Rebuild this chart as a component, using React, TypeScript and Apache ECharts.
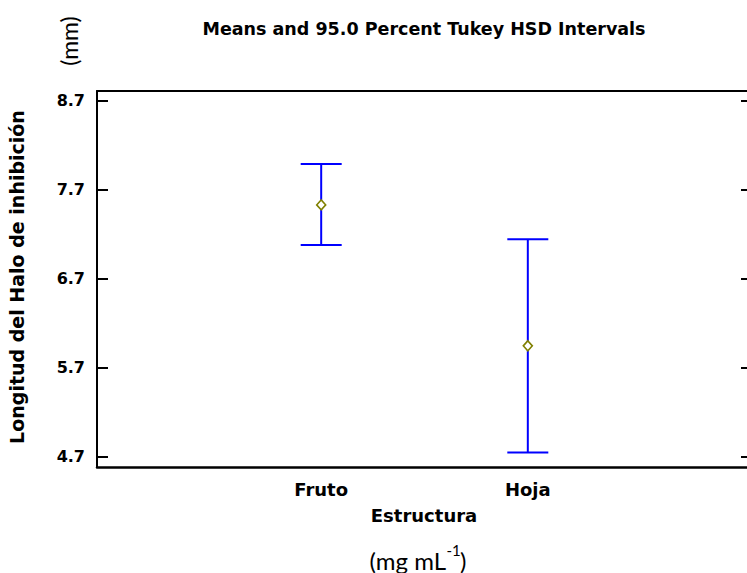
import React, { useEffect, useRef } from "react";
import * as echarts from "echarts";

const categories = ["Fruto", "Hoja"];
const means = [7.53, 5.945];
const lowerLimits = [7.08, 4.745];
const upperLimits = [7.99, 7.145];
const yTicks = [4.7, 5.7, 6.7, 7.7, 8.7];

const titleText = "Means and 95.0 Percent Tukey HSD Intervals";
const yName = "Longitud del Halo de inhibición";
const xName = "Estructura";

const Y_MIN = 4.581;
const Y_MAX = 8.812;
const X_MIN = -0.085;
const X_MAX = 3.085;

const BOLD = "'DejaVu Sans', sans-serif";
const PLAIN = "Lato, 'Open Sans', sans-serif";

export default function App() {
  const ref = useRef<HTMLDivElement>(null);
  useEffect(() => {
    if (!ref.current) return;
    const chart = echarts.init(ref.current, null, { renderer: "svg" });
    const barData = categories.map((_, i) => [i + 1, lowerLimits[i], upperLimits[i]]);
    const meanData = categories.map((_, i) => [i + 1, means[i]]);
    chart.setOption({
      animation: false,
      backgroundColor: "#ffffff",
      grid: { left: 97, right: -5, top: 91, bottom: 106, containLabel: false, outerBoundsMode: "none" },
      xAxis: [
        {
          type: "value",
          position: "bottom",
          min: X_MIN,
          max: X_MAX,
          axisLine: { show: true, lineStyle: { color: "#000", width: 2.5 } },
          axisTick: { show: false },
          splitLine: { show: false },
          axisLabel: {
            customValues: [1, 2],
            formatter: (v: number) => categories[Math.round(v) - 1] ?? "",
            fontFamily: BOLD,
            fontWeight: "bold",
            fontSize: 18,
            color: "#000",
            margin: 13,
          },
        },
        {
          type: "value",
          position: "top",
          min: X_MIN,
          max: X_MAX,
          axisLine: { show: true, onZero: false, lineStyle: { color: "#000", width: 2 } },
          axisTick: { show: false },
          axisLabel: { show: false },
          splitLine: { show: false },
        },
      ],
      yAxis: [
        {
          type: "value",
          position: "left",
          min: Y_MIN,
          max: Y_MAX,
          axisLine: { show: true, onZero: false, lineStyle: { color: "#000", width: 2 } },
          axisTick: { show: true, inside: true, length: 11, customValues: yTicks, lineStyle: { color: "#000", width: 2 } },
          splitLine: { show: false },
          axisLabel: {
            customValues: yTicks,
            formatter: (v: number) => v.toFixed(1),
            fontFamily: BOLD,
            fontWeight: "bold",
            fontSize: 16,
            color: "#000",
            margin: 12,
          },
        },
        {
          type: "value",
          position: "right",
          min: Y_MIN,
          max: Y_MAX,
          axisLine: { show: true, onZero: false, lineStyle: { color: "#000", width: 2 } },
          axisTick: { show: true, inside: true, length: 11, customValues: yTicks, lineStyle: { color: "#000", width: 2 } },
          splitLine: { show: false },
          axisLabel: { show: false },
        },
      ],
      series: [
        {
          type: "custom",
          xAxisIndex: 0,
          yAxisIndex: 0,
          data: barData,
          clip: false,
          renderItem: (params: any, api: any) => {
            const x = api.value(0);
            const pLo = api.coord([x, api.value(1)]);
            const pHi = api.coord([x, api.value(2)]);
            const half = 20.5;
            const style = { stroke: "#0000ff", lineWidth: 2 };
            return {
              type: "group",
              children: [
                { type: "line", shape: { x1: pHi[0], y1: pHi[1], x2: pLo[0], y2: pLo[1] }, style },
                { type: "line", shape: { x1: pHi[0] - half, y1: pHi[1], x2: pHi[0] + half, y2: pHi[1] }, style },
                { type: "line", shape: { x1: pLo[0] - half, y1: pLo[1], x2: pLo[0] + half, y2: pLo[1] }, style },
              ],
            };
          },
          z: 2,
        },
        {
          type: "scatter",
          xAxisIndex: 0,
          yAxisIndex: 0,
          data: meanData,
          symbol: "diamond",
          symbolSize: [9, 10],
          itemStyle: { color: "#ffffff", borderColor: "#808000", borderWidth: 1.6, opacity: 1 },
          z: 3,
        },
      ],
      graphic: [
        {
          type: "text",
          x: 424,
          y: 29,
          style: {
            text: titleText,
            fontFamily: BOLD,
            fontWeight: "bold",
            fontSize: 17.5,
            fill: "#000",
            align: "center",
            verticalAlign: "middle",
          },
        },
        {
          type: "text",
          x: 17,
          y: 277,
          rotation: Math.PI / 2,
          style: {
            text: yName,
            fontFamily: BOLD,
            fontWeight: "bold",
            fontSize: 19,
            fill: "#000",
            align: "center",
            verticalAlign: "middle",
          },
        },
        {
          type: "text",
          x: 69,
          y: 41,
          rotation: Math.PI / 2,
          style: {
            text: "(mm)",
            fontFamily: PLAIN,
            fontSize: 23,
            fill: "#000",
            align: "center",
            verticalAlign: "middle",
          },
        },
        {
          type: "text",
          x: 424,
          y: 515,
          style: {
            text: xName,
            fontFamily: BOLD,
            fontWeight: "bold",
            fontSize: 18,
            fill: "#000",
            align: "center",
            verticalAlign: "middle",
          },
        },
        {
          type: "text",
          x: 446,
          y: 560,
          style: {
            text: "(mg mL",
            fontFamily: PLAIN,
            fontSize: 24,
            fill: "#000",
            align: "right",
            verticalAlign: "middle",
          },
        },
        {
          type: "text",
          x: 446.5,
          y: 550,
          style: {
            text: "-1",
            fontFamily: PLAIN,
            fontSize: 15,
            fill: "#000",
            align: "left",
            verticalAlign: "middle",
          },
        },
        {
          type: "text",
          x: 460,
          y: 560,
          style: {
            text: ")",
            fontFamily: PLAIN,
            fontSize: 24,
            fill: "#000",
            align: "left",
            verticalAlign: "middle",
          },
        },
      ],
    });
    return () => chart.dispose();
  }, []);
  return (
    <div
      ref={ref}
      style={{ position: "absolute", left: 0, top: 0, width: 747, height: 573, background: "#fff" }}
    />
  );
}
